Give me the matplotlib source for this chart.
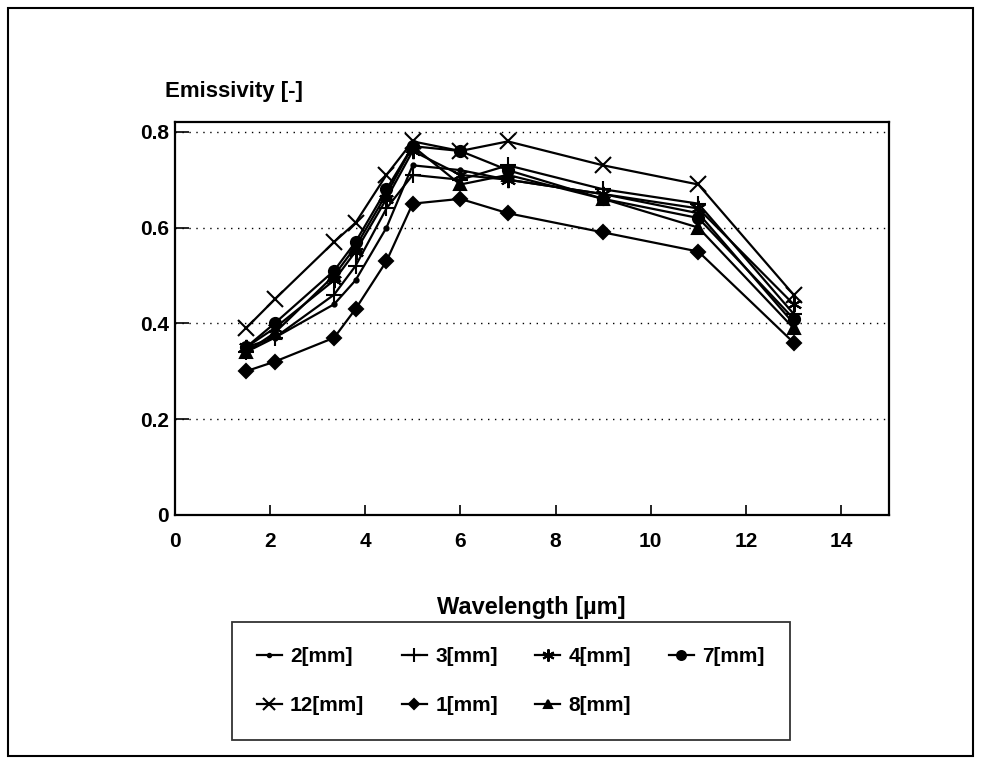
import matplotlib
matplotlib.use("Agg")
import matplotlib.pyplot as plt
from matplotlib.patches import Rectangle

plt.rcParams['font.family'] = ['Liberation Sans', 'DejaVu Sans']
plt.rcParams['font.weight'] = 'bold'

wavelength = [1.5, 2.1, 3.35, 3.8, 4.45, 5.0, 6.0, 7.0, 9.0, 11.0, 13.0]

e_2mm  = [0.35, 0.37, 0.44, 0.49, 0.60, 0.73, 0.72, 0.70, 0.67, 0.63, 0.40]
e_3mm  = [0.34, 0.37, 0.46, 0.52, 0.64, 0.71, 0.70, 0.73, 0.68, 0.65, 0.42]
e_4mm  = [0.35, 0.39, 0.49, 0.55, 0.66, 0.76, 0.71, 0.70, 0.67, 0.64, 0.44]
e_7mm  = [0.35, 0.40, 0.51, 0.57, 0.68, 0.77, 0.76, 0.72, 0.66, 0.62, 0.41]
e_12mm = [0.39, 0.45, 0.57, 0.61, 0.71, 0.78, 0.76, 0.78, 0.73, 0.69, 0.46]
e_1mm  = [0.30, 0.32, 0.37, 0.43, 0.53, 0.65, 0.66, 0.63, 0.59, 0.55, 0.36]
e_8mm  = [0.34, 0.38, 0.50, 0.56, 0.67, 0.77, 0.69, 0.71, 0.66, 0.60, 0.39]

labels = ['2[mm]', '3[mm]', '4[mm]', '7[mm]', '12[mm]', '1[mm]', '8[mm]']
series = [e_2mm, e_3mm, e_4mm, e_7mm, e_12mm, e_1mm, e_8mm]
markers = ['.', '+', (6, 2, 0), 'o', 'x', 'D', '^']
msizes = [6, 12, 11, 8, 11, 7, 8]

x_ticks = [0, 2, 4, 6, 8, 10, 12, 14]
y_ticks = [0, 0.2, 0.4, 0.6, 0.8]
y_tick_labels = ['0', '0.2', '0.4', '0.6', '0.8']

fig = plt.figure(figsize=(9.81, 7.64), dpi=100)
ax = fig.add_axes([0.178, 0.326, 0.728, 0.514])

handles = []
for vals, lab, m, ms in zip(series, labels, markers, msizes):
    h, = ax.plot(wavelength, vals, color='black', linewidth=1.6, marker=m,
                 markersize=ms, markeredgewidth=1.5, label=lab)
    handles.append(h)

ax.set_xlim(0, 15)
ax.set_ylim(0, 0.82)
ax.set_xticks(x_ticks)
ax.set_yticks(y_ticks)
ax.set_yticklabels(y_tick_labels)
ax.tick_params(direction='in', width=1.2, labelsize=15)
ax.tick_params(axis='y', length=10, pad=4)
ax.tick_params(axis='x', length=7, pad=12)
for lab in ax.get_xticklabels() + ax.get_yticklabels():
    lab.set_fontweight('bold')
for sp in ax.spines.values():
    sp.set_linewidth(1.6)
ax.yaxis.grid(True, linestyle=(0, (1, 4)), color='black', linewidth=1.0)
ax.set_axisbelow(True)

fig.text(0.168, 0.866, 'Emissivity [-]', fontsize=16, fontweight='bold',
         ha='left', va='bottom')
ax.set_xlabel('Wavelength [µm]', fontsize=17, fontweight='bold', labelpad=33)

# legend order so that rows read: 2,3,4,7 / 12,1,8 (matplotlib fills by column)
order = [0, 4, 1, 5, 2, 6, 3]
leg = fig.legend([handles[i] for i in order], [labels[i] for i in order],
                 loc='upper left', bbox_to_anchor=(0.236, 0.038, 0.569, 0.148),
                 mode='expand', ncol=4, frameon=True, fancybox=False,
                 prop={'size': 15, 'weight': 'bold'}, handlelength=1.2,
                 handletextpad=0.4, columnspacing=1.0, borderaxespad=0.0,
                 labelspacing=1.45, borderpad=1.2, markerscale=0.8)
leg.get_frame().set_edgecolor('black')
leg.get_frame().set_linewidth(1.3)

fig.patches.append(Rectangle((0.008, 0.01), 0.984, 0.98, transform=fig.transFigure,
                             fill=False, edgecolor='black', linewidth=1.5))

fig.savefig('out.png', dpi=100)
